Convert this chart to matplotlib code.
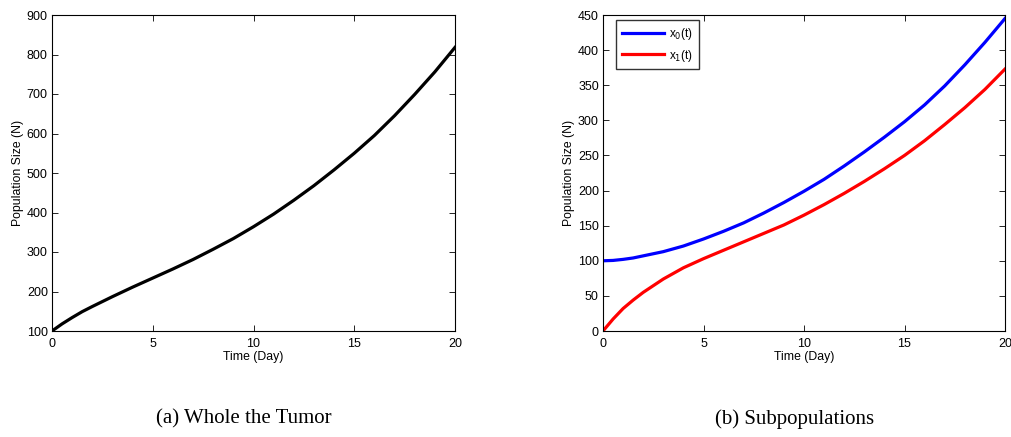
import numpy as np
import matplotlib
matplotlib.use('Agg')
import matplotlib.pyplot as plt

# Time points (days)
t = [0, 0.5, 1, 1.5, 2, 3, 4, 5, 6, 7, 8, 9, 10, 11, 12, 13, 14, 15, 16, 17, 18, 19, 20]

# Whole tumour population
total = [100, 118, 134, 149, 162, 187, 211, 234, 257, 281, 307, 334, 364, 396, 431,
         468, 508, 550, 595, 645, 699, 756, 818]

# Subpopulations
x0 = [100, 100.5, 102, 104, 107, 113, 121, 131, 142, 154, 168, 183, 199, 216, 235,
      255, 276, 298, 322, 349, 379, 411, 445]
x1 = [0, 17, 32, 44, 55, 74, 90, 103, 115, 127, 139, 151, 165, 180, 196,
      213, 231, 250, 271, 294, 318, 344, 373]

plt.rcParams['font.family'] = ['Liberation Sans', 'DejaVu Sans']

fig = plt.figure(figsize=(10.11, 4.37), dpi=100)

ax1 = fig.add_axes([52/1011, 106/437, 403/1011, 316/437])
ax2 = fig.add_axes([603/1011, 106/437, 402/1011, 316/437])

ax1.plot(t, total, color='black', lw=2.3, solid_joinstyle='round')
ax1.set_xlim(0, 20)
ax1.set_ylim(100, 900)
ax1.set_yticks(np.arange(100, 901, 100))

ax2.plot(t, x0, color='#0000ff', lw=2.3, solid_joinstyle='round', label='x$_0$(t)')
ax2.plot(t, x1, color='#ff0000', lw=2.3, solid_joinstyle='round', label='x$_1$(t)')
ax2.set_xlim(0, 20)
ax2.set_ylim(0, 450)
ax2.set_yticks(np.arange(0, 451, 50))
leg = ax2.legend(loc='upper left', fontsize=8.5, frameon=True, fancybox=False,
                 edgecolor='black', handlelength=3.6, handletextpad=0.4,
                 borderpad=0.5, labelspacing=0.5, borderaxespad=0,
                 bbox_to_anchor=(0.032, 0.985))
leg.get_frame().set_linewidth(1.0)

for ax in (ax1, ax2):
    ax.set_xticks([0, 5, 10, 15, 20])
    ax.tick_params(direction='in', top=True, right=True, labelsize=9,
                   length=4, width=0.6)
    ax.tick_params(axis='x', pad=5)
    ax.tick_params(axis='y', pad=3)
    ax.set_xlabel('Time (Day)', fontsize=8.8, labelpad=1)
    ax.set_ylabel('Population Size (N)', fontsize=8.8, labelpad=2)
    for s in ax.spines.values():
        s.set_linewidth(0.8)

fig.text(244/1011, 1 - 419/437, '(a) Whole the Tumor', family='Liberation Serif',
         fontsize=15, ha='center', va='center')
fig.text(795/1011, 1 - 419/437, '(b) Subpopulations', family='Liberation Serif',
         fontsize=15, ha='center', va='center')

plt.savefig('out.png', dpi=100)
